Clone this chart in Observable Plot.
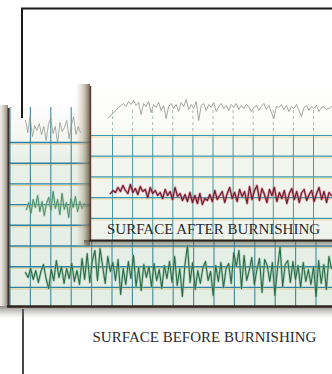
<!DOCTYPE html>
<html>
<head>
<meta charset="utf-8">
<script src="https://cdn.jsdelivr.net/npm/d3@7"></script>
<script src="https://cdn.jsdelivr.net/npm/@observablehq/plot@0.6"></script>
<style>
  html, body { margin: 0; padding: 0; background: #ffffff; overflow: hidden; }
  #chart { width: 332px; height: 374px; }
  #chart svg { display: block; max-width: none !important; }
</style>
</head>
<body>
<div id="chart"></div>
<script>
// ---- Profile heights (arbitrary units, up = positive) ----
const beforeProfile = [
  2, -3, 6, -5, 4, -8, 3, 10, -4, -14,
  5, -6, 14, -3, 8, -9, 6, -4, 11, -7,
  4, -10, 16, -5, 21, -8, 14, 24, -6, 26,
  8, -9, 18, 3, 12, -6, 15, -20, 6, -10,
  13, -4, 19, -12, 7, -16, 10, -3, 8, -12,
  11, -6, 5, -14, 9, -4, 13, -8, 18, -11,
  6, -22, 10, 29, -8, 12, -15, 4, -9, 7,
  13, -6, 3, -21, 9, -7, 12, -13, 6, 11,
  -9, 22, 8, 24, -14, 19, -6, 4, 17, -10,
  5, 16, -18, 15, 9, -7, 12, -21, 6, 28,
  -12, 10, 14, -8, 13, -5, 9, -13, 12, -7,
  5, -10, 8, -22, 14, -9, 10, -15, 18, 6
];
const beforeUpperLeft = [8, -4, 12, -8, 3, -2, 5, -6, 2, -12, 4, 10, -5, 2, -15, 6, -3, 1, 8, -10, 3, 12, -6, 2, -4];
const beforeMidLeft = [-4, 3, -8, 6, -2, 10, -6, 4, -10, 2, 8, -5, 14, -3, 6, -9, 12, -4, 3, -12, 7, -2, 9, -6, 4, -3, 2, -1];
const afterProfile = [
  3, 6, 4, 9, 5, 11, 6, 3, 12, 4,
  8, 2, 10, 5, 7, -1, 9, 3, 6, 1,
  4, -2, 7, 1, 5, -3, 9, 0, 3, -4,
  2, -5, 4, -6, 1, -7, 3, -8, -2, -4,
  2, -5, 6, -3, 1, 5, -6, 3, 9, -2,
  4, -5, 7, 0, 5, -7, 10, -3, 6, 11,
  -4, 8, 2, -6, 7, 1, 9, -5, 4, -2,
  6, -7, 3, 8, -3, 5, -6, 4, 7, -4,
  2, 6, -5, 3, 9, -3, 5, -6, 4, 1
];
const afterUpper = [
  -9, -7, -4, -2, 1, 3, 5, 2, 7, 4,
  8, 3, 6, -6, 5, 2, 7, -4, 4, 1,
  6, -2, 3, -10, 2, 5, 0, 4, -3, 6,
  2, 9, -1, 4, 0, 7, -12, 3, 5, -2,
  4, 1, 6, -3, 2, 5, 0, 3, -2, 4,
  1, 5, -1, 3, 0, 4, 2, -3, 1, 3,
  -2, 2, 5, -1, 3, -4, -10, 2, 1, 4,
  -1, 3, -3, 2, 0, 4, -2, -8, 1, 3,
  -2, 2, 0, 3, -3, 1, 2, -1, 0, 2
];
const labels = ["SURFACE AFTER BURNISHING", "SURFACE BEFORE BURNISHING"];

// ---- Layout (chart-paper units) ----
const W = 332, H = 374;
const backPaper = {x1: 5, x2: 332, y1: 100, y2: 306};
const frontPaper = {x1: 90, x2: 332, y1: 80, y2: 240};
const backGrid = {x0: 9.5, dx: 20.4, y0: 142, dy: 20.7, top: 107};
const frontGrid = {x0: 112, dx: 20.1, y0: 135, dy: 20.7, top: 110};

function range(a, b, step) { const r = []; for (let v = a; v <= b + 0.01; v += step) r.push(v); return r; }
function trace(values, x0, x1, base, k = 1) {
  const n = values.length;
  return values.map((v, i) => ({x: x0 + i * (x1 - x0) / (n - 1), y: base - v * k}));
}

const backVX = range(backGrid.x0, W, backGrid.dx);
const backHY = range(backGrid.y0, backPaper.y2 - 10, backGrid.dy);
const frontVX = range(frontGrid.x0, W, frontGrid.dx);
const frontHY = range(frontGrid.y0, frontPaper.y2 - 10, frontGrid.dy);

const tBefore = trace(beforeProfile, 25, 331, 274);
const tBeforeUp = trace(beforeUpperLeft, 25, 80, 128);
const tBeforeMid = trace(beforeMidLeft, 26, 86, 205);
const tAfter = trace(afterProfile, 110, 331, 196);
const tAfterUp = trace(afterUpper, 108, 331, 108);

const P = {backFill: "#010101", frontFill: "#020202", leftShadow: "#030303", bottomShadow: "#040404", backShadow: "#050505", backEdge: "#060606"};
const serif = "Liberation Serif, Times New Roman, serif";

const chart = Plot.plot({
  width: W, height: H, marginTop: 0, marginRight: 0, marginBottom: 0, marginLeft: 0,
  style: {background: "#ffffff"},
  x: {domain: [0, W], axis: null},
  y: {domain: [0, H], reverse: true, axis: null},
  marks: [
    // frame (top and lower part)
    Plot.ruleY([8], {x1: 21, x2: W, stroke: "#1a1a1a", strokeWidth: 2}),
    Plot.ruleX([22.5], {y1: 309, y2: H, stroke: "#1a1a1a", strokeWidth: 1.6}),
    // back paper: shadow, edge, sheet
    Plot.rect([backPaper], {x1: 0, x2: W, y1: d => d.y2, y2: d => d.y2 + 13, fill: P.backShadow}),
    Plot.rect([backPaper], {x1: 0, x2: d => d.x1 + 3, y1: d => d.y1 + 5, y2: d => d.y2, fill: P.backEdge}),
    Plot.rect([backPaper], {x1: d => d.x1 + 3, x2: "x2", y1: "y1", y2: "y2", fill: P.backFill}),
    Plot.ruleX(backVX, {y1: backGrid.top, y2: backPaper.y2, stroke: "#2f7d92", strokeWidth: 1.1, strokeOpacity: 0.9}),
    Plot.ruleY(backHY, {x1: backPaper.x1 + 3, x2: W, dy: 1.6, stroke: "#dcb75c", strokeWidth: 1, strokeOpacity: 0.6}),
    Plot.ruleY(backHY, {x1: backPaper.x1 + 3, x2: W, stroke: "#2a82a6", strokeWidth: 1.4}),
    Plot.lineY(tBeforeUp, {x: "x", y: "y", stroke: "#8f9388", strokeWidth: 1, strokeOpacity: 0.75}),
    Plot.lineY(tBeforeMid, {x: "x", y: "y", stroke: "#9cc8ae", strokeWidth: 2.4, strokeOpacity: 0.6}),
    Plot.lineY(tBeforeMid, {x: "x", y: "y", stroke: "#4f8f6a", strokeWidth: 1}),
    Plot.lineY(tBefore, {x: "x", y: "y", stroke: "#8fc2a2", strokeWidth: 2.6, strokeOpacity: 0.6}),
    Plot.lineY(tBefore, {x: "x", y: "y", stroke: "#2c6a47", strokeWidth: 1.1}),
    Plot.ruleX([backPaper.x1 + 3], {y1: backPaper.y1 + 8, y2: backPaper.y2, stroke: "#3d3326", strokeWidth: 2}),
    Plot.ruleY([backPaper.y2], {x1: backPaper.x1 + 2, x2: W, stroke: "#2e261c", strokeWidth: 2.4}),
    // frame left upper part (over the back sheet)
    Plot.ruleX([21.5], {y1: 8, y2: 118, stroke: "#1a1a1a", strokeWidth: 2}),
    // front paper: shadows, sheet, grid, traces, edges
    Plot.rect([frontPaper], {x1: d => d.x1 - 14, x2: "x1", y1: d => d.y1 + 4, y2: d => d.y2 + 6, fill: P.leftShadow}),
    Plot.rect([frontPaper], {x1: d => d.x1 - 6, x2: "x2", y1: "y2", y2: d => d.y2 + 9, fill: P.bottomShadow}),
    Plot.rect([frontPaper], {x1: "x1", x2: "x2", y1: "y1", y2: "y2", fill: P.frontFill}),
    Plot.ruleX(frontVX, {y1: frontGrid.top, y2: frontGrid.y0, stroke: "#6e9a8e", strokeWidth: 1, strokeOpacity: 0.6, strokeDasharray: "3,3"}),
    Plot.ruleX(frontVX, {y1: frontGrid.y0, y2: frontPaper.y2, stroke: "#3d8a92", strokeWidth: 1, strokeOpacity: 0.9}),
    Plot.ruleY(frontHY, {x1: frontPaper.x1, x2: W, dy: 1.5, stroke: "#dcb75c", strokeWidth: 1, strokeOpacity: 0.45}),
    Plot.ruleY(frontHY, {x1: frontPaper.x1, x2: W, stroke: "#3f97b2", strokeWidth: 1.2}),
    Plot.lineY(tAfterUp, {x: "x", y: "y", stroke: "#8e918a", strokeWidth: 1, strokeOpacity: 0.8}),
    Plot.lineY(tAfter, {x: "x", y: "y", stroke: "#c84a5c", strokeWidth: 2.6, strokeOpacity: 0.55}),
    Plot.lineY(tAfter, {x: "x", y: "y", stroke: "#6a1a32", strokeWidth: 1.1}),
    Plot.ruleX([frontPaper.x1], {y1: frontPaper.y1 + 6, y2: frontPaper.y2, stroke: "#5a3a2c", strokeWidth: 1.4}),
    Plot.ruleY([frontPaper.y2], {x1: frontPaper.x1 - 1, x2: W, stroke: "#2a2019", strokeWidth: 2.2}),
    // labels
    Plot.text([labels[0]], {x: 213, y: 229, text: d => d, fontFamily: serif, fontSize: 15, fill: "#2b2b2b"}),
    Plot.text([labels[1]], {x: 204, y: 337, text: d => d, fontFamily: serif, fontSize: 15, fill: "#2b2b2b"})
  ]
});

// gradients for paper tones and shadows
const svg = d3.select(chart);
const defs = svg.insert("defs", ":first-child");
function grad(id, vertical, stops) {
  const g = defs.append("linearGradient").attr("id", id)
    .attr("x1", 0).attr("y1", 0).attr("x2", vertical ? 0 : 1).attr("y2", vertical ? 1 : 0);
  stops.forEach(([o, c, a]) => g.append("stop").attr("offset", o).attr("stop-color", c).attr("stop-opacity", a));
}
grad("gBack", true, [[0, "#ffffff", 1], [0.2, "#f3f5ef", 1], [0.3, "#e8f0e8", 1], [1, "#e4eee5", 1]]);
grad("gFront", true, [[0, "#ffffff", 1], [0.3, "#fbfbf7", 1], [0.4, "#f2f6ef", 1], [1, "#eef3eb", 1]]);
grad("gLeft", false, [[0, "#b8ad96", 0], [0.5, "#a89c82", 0.45], [1, "#5e5240", 0.9]]);
grad("gBottom", true, [[0, "#4a4234", 0.7], [1, "#9a9488", 0]]);
grad("gBackShadow", true, [[0, "#3c3830", 0.6], [1, "#bdbab2", 0]]);
grad("gBackEdge", false, [[0, "#c9c2b0", 0.3], [1, "#6e6352", 0.8]]);
const map = {"#010101": "gBack", "#020202": "gFront", "#030303": "gLeft", "#040404": "gBottom", "#050505": "gBackShadow", "#060606": "gBackEdge"};
svg.selectAll("[fill]").each(function() {
  const f = (this.getAttribute("fill") || "").toLowerCase();
  if (map[f]) this.setAttribute("fill", `url(#${map[f]})`);
});
document.getElementById("chart").appendChild(chart);
</script>
</body>
</html>
